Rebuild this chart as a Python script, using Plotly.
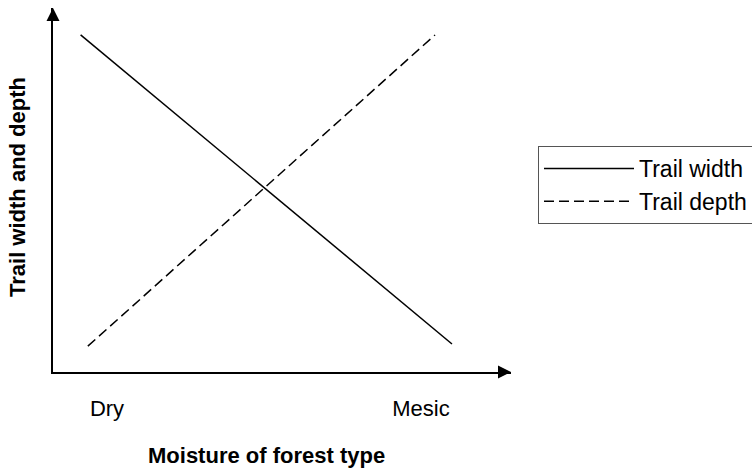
import plotly.graph_objects as go

# Conceptual data (x: Dry=0, Mesic=1; y: relative magnitude 0-10)
width_x = [-0.084, 1.099]
width_y = [9.26, 0.77]
depth_x = [-0.061, 1.045]
depth_y = [0.71, 9.26]
tick_vals = [0, 1]
tick_text = ["Dry", "Mesic"]

FONT = "Liberation Sans, Arial, sans-serif"
FS = 22

fig = go.Figure()
fig.add_trace(go.Scatter(x=width_x, y=width_y, mode="lines", name="Trail width",
                         line=dict(color="black", width=1.5, dash="solid"), legendgroup="a"))
fig.add_trace(go.Scatter(x=depth_x, y=depth_y, mode="lines", name="Trail depth",
                         line=dict(color="black", width=1.5, dash="10px,5px"), legendgroup="b"))

L, R, T, B = 53, 752 - 511, 8, 468 - 372
pw = 752 - L - R
ph = 468 - T - B

fig.update_layout(
    width=752, height=468,
    margin=dict(l=L, r=R, t=T, b=B, pad=0, autoexpand=False),
    paper_bgcolor="white", plot_bgcolor="white",
    font=dict(family=FONT, size=FS, color="black"),
    showlegend=True,
    legend=dict(x=1 + (538 - 511) / pw, y=1 - (146 - T) / ph, xanchor="left", yanchor="top",
                bordercolor="#555", borderwidth=1, bgcolor="white",
                itemwidth=90, tracegroupgap=0,
                font=dict(family=FONT, size=23)),
    xaxis=dict(range=[-0.172, 1.287], showgrid=False, zeroline=False,
               showline=True, linecolor="black", linewidth=2,
               tickvals=tick_vals, ticktext=tick_text, ticks="",
               ticklabelstandoff=16, fixedrange=True),
    yaxis=dict(range=[0, 10], showgrid=False, zeroline=False,
               showline=True, linecolor="black", linewidth=2,
               showticklabels=False, ticks="", fixedrange=True),
)

# arrowheads on the axes
fig.add_annotation(x=1, y=0, xref="paper", yref="paper", ax=-14, ay=0,
                   showarrow=True, arrowhead=2, arrowsize=1.3, arrowwidth=2,
                   arrowcolor="black", text="")
fig.add_annotation(x=0, y=1, xref="paper", yref="paper", ax=0, ay=14,
                   showarrow=True, arrowhead=2, arrowsize=1.3, arrowwidth=2,
                   arrowcolor="black", text="")

# axis titles
fig.add_annotation(x=(266 - L) / pw, y=-(455 - 372) / ph, xref="paper", yref="paper",
                   text="<b>Moisture of forest type</b>", showarrow=False,
                   xanchor="center", yanchor="middle", font=dict(family=FONT, size=FS))
fig.add_annotation(x=-(53 - 17) / pw, y=(372 - 187) / ph, xref="paper", yref="paper",
                   text="<b>Trail width and depth</b>", showarrow=False, textangle=-90,
                   xanchor="center", yanchor="middle", font=dict(family=FONT, size=FS))

fig.write_html("out.html", config={"displayModeBar": False},
               post_script="document.body.style.margin='0';")
